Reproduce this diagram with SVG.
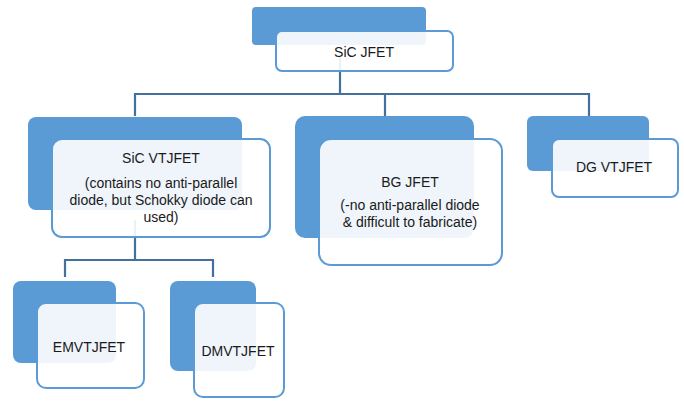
<svg xmlns="http://www.w3.org/2000/svg" width="684" height="401" viewBox="0 0 684 401">
<style>
.back{fill:#5b9bd5}
.front{fill:#ffffff;fill-opacity:0.9;stroke:#5b9bd5;stroke-width:2}
.conn{fill:none;stroke:#41719c;stroke-width:2.2}
text{font-family:"Liberation Sans","Open Sans",Arial,sans-serif;font-size:14px;fill:#1a1a1a;text-anchor:middle}
</style>
<rect width="684" height="401" fill="#ffffff"/>
<g id="connectors">
<path class="conn" d="M340 55 V94 M135 116 V94 H589 V116 M385 94 V116"/>
<path class="conn" d="M135 220 V260 M65 277 V260 H213 V277"/>
</g>
<g id="sic-jfet">
<rect class="back" x="252" y="7" width="174" height="38" rx="4"/>
<rect class="front" x="276" y="31" width="177" height="40" rx="6"/>
<text x="364" y="57">SiC JFET</text>
</g>
<g id="sic-vtjfet">
<rect class="back" x="28" y="117" width="214" height="93" rx="8"/>
<rect class="front" x="52" y="139" width="218" height="98" rx="10"/>
<text x="161" y="163">SiC VTJFET</text>
<text x="161" y="188">(contains no anti-parallel</text>
<text x="161" y="205">diode, but Schokky diode can</text>
<text x="161" y="222">used)</text>
</g>
<g id="bg-jfet">
<rect class="back" x="295" y="116" width="179" height="122" rx="10"/>
<rect class="front" x="319" y="139" width="183" height="126" rx="12"/>
<text x="410" y="187">BG JFET</text>
<text x="410" y="210">(-no anti-parallel diode</text>
<text x="410" y="227">&amp; difficult to fabricate)</text>
</g>
<g id="dg-vtjfet">
<rect class="back" x="527" y="116" width="122" height="55" rx="6"/>
<rect class="front" x="552" y="139" width="126" height="58" rx="7"/>
<text x="614" y="172">DG VTJFET</text>
</g>
<g id="emvtjfet">
<rect class="back" x="13" y="281" width="103" height="82" rx="8"/>
<rect class="front" x="37" y="303" width="107" height="85" rx="9"/>
<text x="89" y="352">EMVTJFET</text>
</g>
<g id="dmvtjfet">
<rect class="back" x="170" y="281" width="86" height="90" rx="8"/>
<rect class="front" x="194" y="303" width="90" height="94" rx="9"/>
<text x="238" y="356">DMVTJFET</text>
</g>
</svg>
